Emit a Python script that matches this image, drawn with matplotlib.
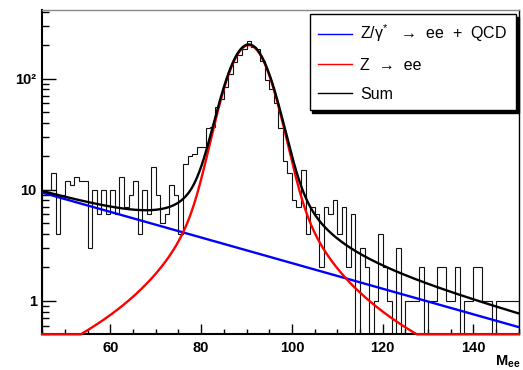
import numpy as np
import matplotlib
matplotlib.use("Agg")
import matplotlib.pyplot as plt
from matplotlib.ticker import FixedLocator, FixedFormatter, NullFormatter
from matplotlib.lines import Line2D

plt.rcParams['font.family'] = ['Liberation Sans', 'DejaVu Sans']
plt.rcParams['mathtext.fontset'] = 'custom'
plt.rcParams['mathtext.rm'] = 'Liberation Sans'
plt.rcParams['mathtext.bf'] = 'Liberation Sans:bold'

# histogram: 1 GeV bins from 45 to 150 (entries per bin)
bin_lo = 45
bin_hi = 150
counts = [10, 10, 14, 4, 9, 12, 11, 13, 12, 12,      # 45-54
          3, 10, 6, 10, 6, 10, 6, 13, 7, 9,          # 55-64
          12, 4, 10, 6, 16, 9, 5, 6, 11, 9,          # 65-74
          4, 17, 20, 21, 24, 24, 36, 37, 56, 65,     # 75-84
          84, 110, 140, 163, 185, 216, 192, 185, 143, 97,  # 85-94
          81, 60, 36, 18, 14, 8, 7, 15, 4, 7,        # 95-104
          6, 2, 7, 6, 8, 4, 7, 2, 6, 0,              # 105-114
          3, 2, 0, 1, 4, 2, 1, 0, 3, 0,              # 115-124
          1, 1, 1, 2, 0, 1, 1, 2, 2, 1,              # 125-134
          1, 2, 0, 1, 1, 2, 2, 1, 1, 0,              # 135-144
          1, 1, 1, 1, 1]                             # 145-149

# fitted curves (parameters)
bkg_at_lo = 9.4      # Z/gamma* + QCD at 45 GeV
bkg_at_hi = 0.58     # ... at 150 GeV
z_mass = 90.5
z_width = 1.9
z_sigma = 3.6
z_peak = 200.0

y_min, y_max = 0.5, 414


def bkg(x):
    slope = np.log(bkg_at_hi / bkg_at_lo) / (bin_hi - bin_lo)
    return bkg_at_lo * np.exp(slope * (x - bin_lo))


def signal(x):
    # Breit-Wigner smeared with a gaussian resolution (voigt shape)
    u = np.linspace(-6 * z_sigma, 6 * z_sigma, 1201)
    g = np.exp(-0.5 * (u / z_sigma) ** 2)
    hw = z_width / 2

    def v(xx):
        xx = np.atleast_1d(xx)
        d = xx[:, None] - z_mass - u[None, :]
        return (g[None, :] * hw**2 / (d**2 + hw**2)).sum(axis=1)
    return z_peak * v(x) / v(np.array([z_mass]))[0]


fig = plt.figure(figsize=(5.23, 3.70), dpi=100)
ax = fig.add_axes([42.3 / 523, 1 - 334.3 / 370, 476.5 / 523, 324.3 / 370])

edges = np.arange(bin_lo, bin_hi + 1)
h = np.array(counts, dtype=float)
h_draw = np.where(h > 0, h, 1e-3)
ax.stairs(h_draw, edges, baseline=1e-3, color='#111111', lw=0.8, zorder=2)

xf = np.linspace(bin_lo, bin_hi, 600)
yb = bkg(xf)
ys = signal(xf)
ysum = yb + ys
ax.plot(xf, yb, color='#0000ff', lw=1.7, zorder=3)
ax.plot(xf, np.maximum(ys, y_min), color='#ff0000', lw=1.7, zorder=3, clip_on=False)
ax.plot(xf, ysum, color='black', lw=1.7, zorder=4)

ax.set_yscale('log')
ax.set_xlim(bin_lo, bin_hi)
ax.set_ylim(y_min, y_max)

# ROOT-like ticks: inside, left and bottom only
ax.xaxis.set_major_locator(FixedLocator([60, 80, 100, 120, 140]))
ax.xaxis.set_minor_locator(FixedLocator(np.arange(45, 151, 5)))
ax.yaxis.set_major_locator(FixedLocator([1, 10, 100]))
ax.yaxis.set_major_formatter(FixedFormatter(['1', '10', '10²']))
minor_y = [0.5, 0.6, 0.7, 0.8, 0.9] + [m * d for d in (1, 10) for m in range(2, 10)] + [200, 300, 400]
ax.yaxis.set_minor_locator(FixedLocator(minor_y))
ax.yaxis.set_minor_formatter(NullFormatter())
ax.tick_params(axis='y', which='major', direction='in', length=10, width=1, pad=4,
               labelsize=10.5)
ax.tick_params(axis='y', which='minor', direction='in', length=5, width=1)
ax.tick_params(axis='x', which='major', direction='in', length=7, width=1, pad=5,
               labelsize=10.5)
ax.tick_params(axis='x', which='minor', direction='in', length=3.5, width=1)
for lab in ax.get_xticklabels() + ax.get_yticklabels():
    lab.set_fontweight('bold')

for side in ['left', 'bottom']:
    ax.spines[side].set_linewidth(1.5)
ax.spines['right'].set_linewidth(1.0)
ax.spines['top'].set_linewidth(1.0)
ax.spines['top'].set_color('#888888')

fig.text(520 / 523, 1 - 365 / 370, r'$\mathbf{M}_{\mathbf{ee}}$', ha='right', va='baseline',
         fontsize=10.5)

handles = [Line2D([], [], color='#0000ff', lw=1),
           Line2D([], [], color='#ff0000', lw=1),
           Line2D([], [], color='black', lw=1)]
labels = [r'Z/γ$^{*}$   →  ee  +  QCD', 'Z  →  ee', 'Sum']
leg = ax.legend(handles, labels, loc='upper right', bbox_to_anchor=(0.9937, 0.9877),
                borderaxespad=0, fancybox=False, framealpha=1, edgecolor='black',
                shadow={'color': 'black', 'alpha': 1}, fontsize=11.5,
                handlelength=2.1, handletextpad=0.5, labelspacing=0.85,
                borderpad=0.55)
leg.get_frame().set_linewidth(1.0)

fig.savefig('out.png', dpi=100)
